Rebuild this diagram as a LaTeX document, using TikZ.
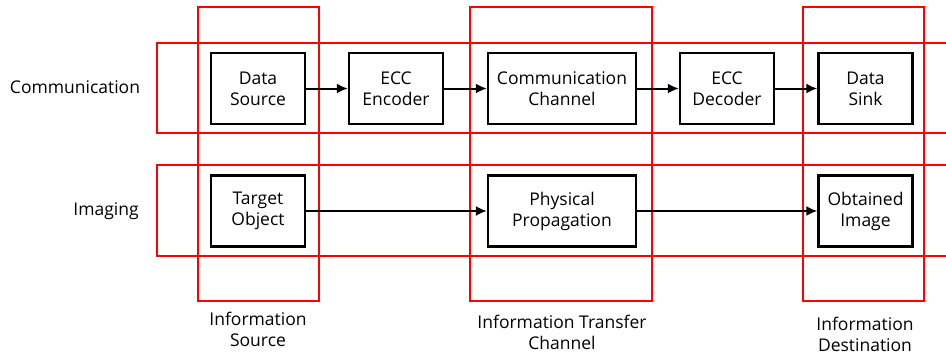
\documentclass[tikz,border=0pt]{standalone}
\usepackage{fontspec}
\setmainfont{Open Sans}
\usepackage{tikz}
\usetikzlibrary{arrows.meta}

\tikzset{
  block/.style={draw, line width=2.3pt, minimum width=94pt, minimum height=71pt,
    align=center, inner sep=2pt, font=\fontsize{17.5}{21}\selectfont},
  zone/.style={draw=red, line width=2.5pt},
  flow/.style={-{Latex[length=11pt,width=10pt]}, line width=2pt},
  caption/.style={align=center, font=\fontsize{17.5}{21}\selectfont}
}

\begin{document}
\begin{tikzpicture}[x=1pt,y=-1pt]
    \useasboundingbox (0,0) rectangle (946,356);
    \def \ztop {7}
    \def \zbottom {301}
    % red frames: rows, then stages
    \draw[zone] (157,43) rectangle (960,133);
    \draw[zone] (157,165) rectangle (960,256);
    \foreach \l/\r in {198/319, 470/652, 803/924}
      \draw[zone] (\l,\ztop) rectangle (\r,\zbottom);

    \node[caption] (comm) at (75,87) {Communication};
    \node[caption] (imaging) at (106,211) {Imaging};

    \node[block] (src) at (258,88.5) {Data\\Source};
    \node[block] (enc) at (396,88.5) {ECC\\Encoder};
    \node[block, minimum width=148pt] (chan) at (562,88.5) {Communication\\Channel};
    \node[block] (dec) at (727,88.5) {ECC\\Decoder};
    \node[block] (sink) at (865.5,88.5) {Data\\Sink};

    \node[block] (obj) at (258,211) {Target\\Object};
    \node[block, minimum width=148pt] (prop) at (562,211) {Physical\\Propagation};
    \node[block] (img) at (865.5,211) {Obtained\\Image};

    \draw[flow] (src) -- (enc);
    \draw[flow] (enc) -- (chan);
    \draw[flow] (chan) -- (dec);
    \draw[flow] (dec) -- (sink);
    \draw[flow] (obj) -- (prop);
    \draw[flow] (prop) -- (img);

    \node[caption] (source) at (258,329) {Information\\Source};
    \node[caption] (transfer) at (562,332) {Information Transfer\\Channel};
    \node[caption] (dest) at (865,334) {Information\\Destination};
\end{tikzpicture}
\end{document}
